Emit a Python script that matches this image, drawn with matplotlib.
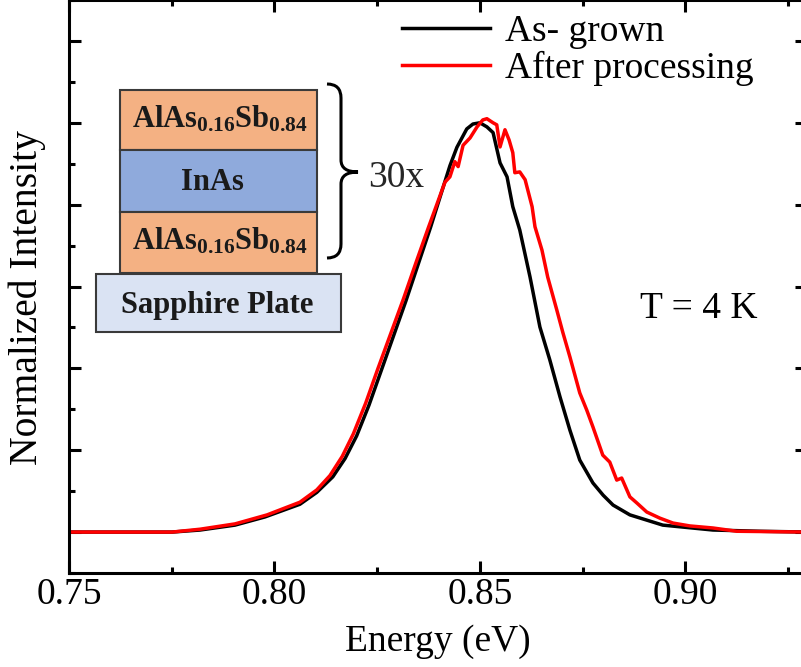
import matplotlib
matplotlib.use("Agg")
import matplotlib.pyplot as plt
from matplotlib.patches import Rectangle, PathPatch
from matplotlib.path import Path
from matplotlib.ticker import MultipleLocator

plt.rcParams['font.family'] = ['Liberation Serif', 'DejaVu Serif']
plt.rcParams['mathtext.fontset'] = 'custom'
plt.rcParams['mathtext.bf'] = 'Liberation Serif:bold'
plt.rcParams['mathtext.rm'] = 'Liberation Serif'

# PL spectra at 4 K, normalized
energy_grown = [0.7500, 0.7751, 0.7819, 0.7904, 0.7977, 0.8062, 0.8103, 0.8142,
                0.8172, 0.8200, 0.8230, 0.8260, 0.8290, 0.8320, 0.8350, 0.8380,
                0.8405, 0.8427, 0.8444, 0.8468, 0.8483, 0.8500, 0.8517, 0.8532,
                0.8549, 0.8566, 0.8580, 0.8597, 0.8622, 0.8646, 0.8670, 0.8695,
                0.8719, 0.8743, 0.8775, 0.8800, 0.8824, 0.8865, 0.8945, 0.9067,
                0.9181, 0.9300]
intensity_grown = [0.000, 0.000, 0.005, 0.017, 0.037, 0.068, 0.097, 0.135,
                   0.180, 0.235, 0.310, 0.395, 0.480, 0.565, 0.655, 0.745,
                   0.825, 0.895, 0.940, 0.985, 0.997, 1.000, 0.990, 0.976,
                   0.902, 0.868, 0.795, 0.738, 0.623, 0.501, 0.421, 0.330,
                   0.249, 0.176, 0.120, 0.090, 0.066, 0.042, 0.017, 0.005,
                   0.002, 0.000]

energy_proc = [0.7500, 0.7751, 0.7819, 0.7904, 0.7982, 0.8062, 0.8103, 0.8135,
               0.8165, 0.8192, 0.8222, 0.8252, 0.8283, 0.8314, 0.8345, 0.8375,
               0.8395, 0.8408, 0.8415, 0.8427, 0.8439, 0.8447, 0.8459, 0.8476,
               0.8493, 0.8507, 0.8517, 0.8532, 0.8541, 0.8549, 0.8561, 0.8571,
               0.8580, 0.8585, 0.8597, 0.8610, 0.8627, 0.8634, 0.8651, 0.8665,
               0.8687, 0.8702, 0.8719, 0.8743, 0.8760, 0.8775, 0.8799, 0.8816,
               0.8833, 0.8845, 0.8865, 0.8882, 0.8906, 0.8938, 0.8970, 0.9011,
               0.9067, 0.9125, 0.9300]
intensity_proc = [0.000, 0.000, 0.007, 0.020, 0.042, 0.073, 0.103, 0.138,
                  0.185, 0.240, 0.315, 0.400, 0.485, 0.570, 0.660, 0.745,
                  0.800, 0.836, 0.855, 0.868, 0.905, 0.893, 0.945, 0.963,
                  0.990, 1.007, 1.010, 1.000, 0.995, 0.941, 0.983, 0.958,
                  0.927, 0.878, 0.880, 0.861, 0.795, 0.746, 0.689, 0.623,
                  0.543, 0.487, 0.428, 0.340, 0.298, 0.257, 0.188, 0.171,
                  0.127, 0.132, 0.086, 0.071, 0.049, 0.034, 0.022, 0.015,
                  0.010, 0.002, 0.000]

series_labels = ['As- grown', 'After processing']
x_ticks = [0.75, 0.80, 0.85, 0.90]
x_ticklabels = ['0.75', '0.80', '0.85', '0.90']

W, H = 801, 667
fig = plt.figure(figsize=(W / 100, H / 100), dpi=100)
ax = fig.add_axes([69 / W, 1 - 573 / H, 738 / W, 573 / H])

ax.plot(energy_grown, intensity_grown, color='black', lw=2.5, label=series_labels[0])
ax.plot(energy_proc, intensity_proc, color='#ff0000', lw=2.5, label=series_labels[1])

ax.set_xlim(0.75, 0.9296)
ax.set_ylim(-0.1, 1.30)
ax.set_xticks(x_ticks)
ax.set_xticklabels(x_ticklabels)
ax.xaxis.set_minor_locator(MultipleLocator(0.025))
ax.yaxis.set_major_locator(MultipleLocator(0.2))
ax.yaxis.set_minor_locator(MultipleLocator(0.1))
ax.tick_params(which='both', direction='in', top=True, right=True, width=2.2,
               labelsize=27, pad=3, labelleft=False)
ax.tick_params(which='major', length=8.6)
ax.tick_params(which='minor', length=4.3)
for sp in ax.spines.values():
    sp.set_linewidth(2.2)

ax.set_xlabel('Energy (eV)', fontsize=27, labelpad=9)
ax.set_ylabel('Normalized Intensity', fontsize=28.5)
ax.yaxis.set_label_coords(-0.031, 0.48)

ax.legend(loc='upper left', bbox_to_anchor=(0.451, 0.975), frameon=False,
          fontsize=27, handlelength=2.35, handletextpad=0.4, borderpad=0,
          borderaxespad=0, labelspacing=0.05)

ax.text(0.774, 0.445, 'T = 4 K', transform=ax.transAxes, fontsize=27,
        va='baseline', ha='left')

# layer stack schematic, drawn in pixel units on a full-figure overlay
ov = fig.add_axes([0, 0, 1, 1])
ov.set_xlim(0, W)
ov.set_ylim(H, 0)
ov.axis('off')

orange = '#f4b183'
blue = '#8faadc'
pale = '#dae3f3'
edge = '#3a3a3a'
layers = [
    (120, 90, 197, 60, orange, r'$\mathbf{AlAs_{0.16}Sb_{0.84}}$', 220, 128),
    (120, 150, 197, 62, blue, 'InAs', 212, 190),
    (120, 212, 197, 61, orange, r'$\mathbf{AlAs_{0.16}Sb_{0.84}}$', 220, 250),
    (96, 274, 245, 58, pale, 'Sapphire Plate', 217, 313),
]
for x0, y0, w, h, fc, txt, tx, base in layers:
    ov.add_patch(Rectangle((x0, y0), w, h, facecolor=fc, edgecolor=edge, lw=1.5))
    ov.text(tx, base, txt, fontsize=22, fontweight='bold',
            ha='center', va='baseline', color='#1a1a1a')

brace = Path(
    [(327, 84), (341, 84), (341, 98), (341, 160), (341, 172), (358, 172),
     (341, 172), (341, 184), (341, 244), (341, 258), (327, 258)],
    [Path.MOVETO, Path.CURVE3, Path.CURVE3, Path.LINETO, Path.CURVE3, Path.CURVE3,
     Path.CURVE3, Path.CURVE3, Path.LINETO, Path.CURVE3, Path.CURVE3])
ov.add_patch(PathPatch(brace, facecolor='none', edgecolor='black', lw=2.2))
ov.text(368, 187, '30x', fontsize=27, color='#262626', ha='left', va='baseline')

fig.savefig('out.png', dpi=100)
